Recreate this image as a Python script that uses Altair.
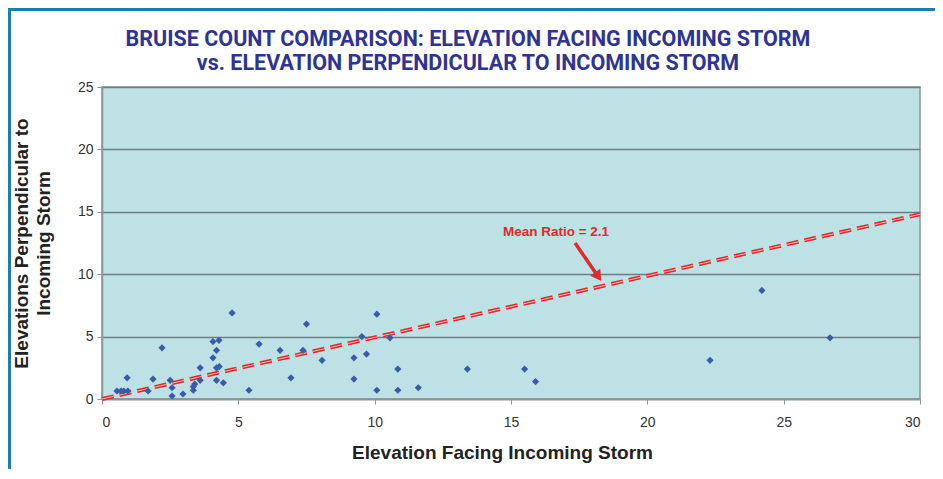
import altair as alt
import pandas as pd

facing = [0.55, 0.7, 0.8, 0.95, 0.92, 1.69, 1.87, 2.2, 2.5, 2.57, 2.57, 2.97, 3.35, 3.35, 3.4,
          3.6, 3.6, 4.07, 4.07, 4.29, 4.2, 4.2, 4.3, 4.2, 4.45, 4.77, 5.39, 5.76, 6.53, 6.93,
          7.37, 7.5, 8.07, 9.24, 9.24, 9.53, 9.7, 10.08, 10.08, 10.56, 10.85, 10.85, 11.6,
          13.4, 15.5, 15.9, 22.3, 24.2, 26.7]
perpendicular = [0.64, 0.64, 0.64, 0.64, 1.7, 0.64, 1.6, 4.1, 1.5, 0.9, 0.24, 0.4, 0.7, 1.0, 1.2,
                 1.5, 2.5, 3.3, 4.6, 4.7, 3.9, 2.5, 2.6, 1.5, 1.3, 6.9, 0.7, 4.4, 3.9, 1.7,
                 3.9, 6.0, 3.1, 3.3, 1.6, 5.0, 3.6, 6.8, 0.7, 4.9, 2.4, 0.7, 0.9,
                 2.4, 2.4, 1.4, 3.1, 8.7, 4.9]

line_x = [0, 30]
line_y = [0, 14.8]

note_text = ["Mean Ratio = 2.1"]
note_x = [16.65]
note_y = [13.4]
arrow_x = [17.35]
arrow_y = [12.5]
arrow_x2 = [18.2]
arrow_y2 = [9.8]

title_lines = ["BRUISE COUNT COMPARISON: ELEVATION FACING INCOMING STORM",
               "vs. ELEVATION PERPENDICULAR TO INCOMING STORM"]

pts = pd.DataFrame({"x": facing, "y": perpendicular})
ln = pd.DataFrame({"x": line_x, "y": line_y})
note = pd.DataFrame({"t": note_text, "x": note_x, "y": note_y})
arr = pd.DataFrame({"x": arrow_x, "y": arrow_y, "x2": arrow_x2, "y2": arrow_y2})
head = pd.DataFrame({"x": arrow_x2, "y": arrow_y2})
one = pd.DataFrame({"a": [0]})

xs = alt.Scale(domain=[0, 30], nice=False)
ys = alt.Scale(domain=[0, 25], nice=False)

xax = alt.Axis(values=[0, 5, 10, 15, 20, 25, 30], grid=False, title="Elevation Facing Incoming Storm",
               titleFontSize=19, titleFont="Liberation Sans", titleFontWeight="bold", titleColor="#222",
               titlePadding=14, titleX=400, labelFontSize=14, labelColor="#333", labelFont="Liberation Sans",
               labelPadding=11, tickSize=5, tickColor="#8a9597", domainColor="#8a9597", domainWidth=1.5)
yax = alt.Axis(values=[0, 5, 10, 15, 20, 25], grid=True, gridColor="#6f7e82", gridWidth=1.5,
               title=["Elevations Perpendicular to", "Incoming Storm"],
               titleFontSize=19, titleFont="Liberation Sans", titleFontWeight="bold", titleColor="#222",
               titlePadding=24, titleLineHeight=22,
               labelFontSize=14, labelColor="#333", labelFont="Liberation Sans",
               labelPadding=4, tickSize=5, tickColor="#8a9597", domainColor="#8a9597", domainWidth=1.5)

points = alt.Chart(pts).mark_point(shape="diamond", filled=True, size=52, color="#3a5ca8", opacity=1).encode(
    x=alt.X("x:Q", scale=xs, axis=xax),
    y=alt.Y("y:Q", scale=ys, axis=yax),
)

mean_line = alt.Chart(ln).mark_line(color="#e0292b", strokeWidth=4, strokeDash=[12, 6]).encode(
    x=alt.X("x:Q", scale=xs), y=alt.Y("y:Q", scale=ys))
mean_line_hi = alt.Chart(ln).mark_line(color="#f5b8b8", strokeWidth=1, strokeDash=[12, 6]).encode(
    x=alt.X("x:Q", scale=xs), y=alt.Y("y:Q", scale=ys))

label = alt.Chart(note).mark_text(color="#e0292b", fontSize=13.5, fontWeight="bold",
                                  font="Liberation Sans").encode(
    x=alt.X("x:Q", scale=xs), y=alt.Y("y:Q", scale=ys), text="t:N")

arrow = alt.Chart(arr).mark_rule(color="#e0292b", strokeWidth=3.5).encode(
    x=alt.X("x:Q", scale=xs), y=alt.Y("y:Q", scale=ys), x2="x2:Q", y2="y2:Q")
arrow_head = alt.Chart(head).mark_point(shape="triangle-up", filled=True, size=150, color="#e0292b",
                                        angle=145, opacity=1).encode(
    x=alt.X("x:Q", scale=xs), y=alt.Y("y:Q", scale=ys))

title1 = alt.Chart(one).mark_text(text=title_lines[0], font="Roboto", fontSize=21.5,
                                  fontWeight="bold", color="#2e3494", baseline="middle").encode(
    x=alt.value(366), y=alt.value(-47))
title2 = alt.Chart(one).mark_text(text=title_lines[1], font="Roboto", fontSize=21.5,
                                  fontWeight="bold", color="#2e3494", baseline="middle").encode(
    x=alt.value(366), y=alt.value(-23))

border_top = alt.Chart(one).mark_rule(color="#1a7fab", strokeWidth=3).encode(
    x=alt.value(-94), x2=alt.value(849), y=alt.value(-77.5))
border_left = alt.Chart(one).mark_rule(color="#1a7fab", strokeWidth=3).encode(
    x=alt.value(-92.5), y=alt.value(-79), y2=alt.value(400))

chart = alt.layer(mean_line, mean_line_hi, points, arrow, arrow_head, label,
                  title1, title2, border_top, border_left).properties(
    width=818, height=312,
    padding={"left": 94, "top": 79, "right": 15, "bottom": 70},
    autosize=alt.AutoSizeParams(type="none"),
    background="white",
).configure_view(fill="#bde1e4", stroke="#8a9597", strokeWidth=1.5)

chart.save("out.html", embed_options={"renderer": "svg", "actions": False})
